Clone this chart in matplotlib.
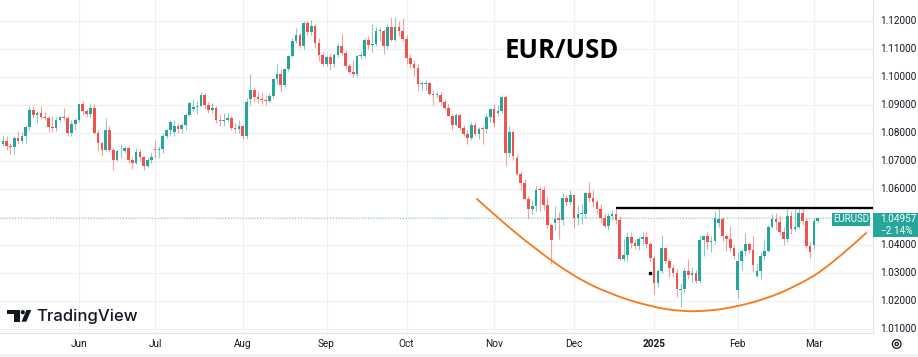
import numpy as np
import pandas as pd
import matplotlib
matplotlib.use("Agg")
import matplotlib.pyplot as plt
from matplotlib.patches import Rectangle, Circle, Ellipse, Polygon, PathPatch
from matplotlib.path import Path

plt.rcParams['font.family'] = ['Roboto', 'DejaVu Sans']

# ---------------- data (daily EUR/USD candles, weekdays, Dec 25 & Jan 1 skipped) ----------------
dates = pd.bdate_range("2024-05-03", "2025-03-04")
dates = dates[~dates.isin(pd.to_datetime(["2024-12-25", "2025-01-01"]))]

opens = [
    # May
    1.0727, 1.0761, 1.0770, 1.0753, 1.0749, 1.0783, 1.0771, 1.0790, 1.0820, 1.0883,
    1.0866, 1.0871, 1.0857, 1.0855, 1.0820, 1.0818, 1.0847, 1.0858, 1.0855, 1.0801, 1.0832,
    # Jun
    1.0848, 1.0904, 1.0877, 1.0868, 1.0890, 1.0800, 1.0763, 1.0740, 1.0809, 1.0740,
    1.0702, 1.0734, 1.0737, 1.0747, 1.0703, 1.0692, 1.0733, 1.0714, 1.0683, 1.0702,
    # Jul
    1.0744, 1.0740, 1.0742, 1.0791, 1.0810, 1.0805, 1.0825, 1.0813, 1.0830, 1.0865,
    1.0886, 1.0894, 1.0898, 1.0937, 1.0899, 1.0882, 1.0891, 1.0845, 1.0843, 1.0848,
    1.0855, 1.0818, 1.0816,
    # Aug
    1.0826, 1.0790, 1.0920, 1.0952, 1.0930, 1.0922, 1.0919, 1.0916, 1.0932, 1.0993,
    1.1012, 1.0973, 1.1027, 1.1075, 1.1130, 1.1151, 1.1111, 1.1192, 1.1161, 1.1183,
    1.1120, 1.1077,
    # Sep
    1.1047, 1.1073, 1.1045, 1.1078, 1.1111, 1.1086, 1.1039, 1.1017, 1.1010, 1.1075,
    1.1076, 1.1131, 1.1115, 1.1118, 1.1163, 1.1164, 1.1110, 1.1180, 1.1133, 1.1177, 1.1164,
    # Oct
    1.1135, 1.1067, 1.1047, 1.1032, 1.0974, 1.0975, 1.0978, 1.0940, 1.0936, 1.0937,
    1.0909, 1.0891, 1.0861, 1.0830, 1.0866, 1.0818, 1.0797, 1.0781, 1.0827, 1.0797,
    1.0815, 1.0814, 1.0856,
    # Nov
    1.0884, 1.0870, 1.0879, 1.0930, 1.0730, 1.0803, 1.0710, 1.0655, 1.0621, 1.0565,
    1.0530, 1.0541, 1.0599, 1.0596, 1.0544, 1.0472, 1.0478, 1.0495, 1.0488, 1.0568, 1.0555,
    # Dec
    1.0577, 1.0497, 1.0510, 1.0512, 1.0587, 1.0567, 1.0554, 1.0528, 1.0498, 1.0468,
    1.0502, 1.0512, 1.0489, 1.0350, 1.0364, 1.0430, 1.0406, 1.0398, 1.0421, 1.0429, 1.0405,
    # Jan
    1.0354, 1.0265, 1.0308, 1.0388, 1.0344, 1.0317, 1.0300, 1.0241, 1.0244, 1.0307,
    1.0292, 1.0300, 1.0272, 1.0417, 1.0431, 1.0409, 1.0413, 1.0480, 1.0494, 1.0431,
    1.0422, 1.0390,
    # Feb
    1.0240, 1.0344, 1.0378, 1.0403, 1.0381, 1.0290, 1.0307, 1.0361, 1.0380, 1.0466,
    1.0493, 1.0483, 1.0446, 1.0421, 1.0505, 1.0458, 1.0465, 1.0514, 1.0485, 1.0398,
    # Mar
    1.0400, 1.0485,
]
highs = [
    1.0812, 1.0790, 1.0790, 1.0765, 1.0790, 1.0806, 1.0805, 1.0830, 1.0895, 1.0895,
    1.0880, 1.0895, 1.0876, 1.0862, 1.0860, 1.0857, 1.0862, 1.0889, 1.0862, 1.0846, 1.0852,
    1.0905, 1.0916, 1.0885, 1.0902, 1.0902, 1.0809, 1.0768, 1.0852, 1.0826, 1.0745,
    1.0740, 1.0762, 1.0755, 1.0752, 1.0715, 1.0748, 1.0744, 1.0717, 1.0715, 1.0727,
    1.0776, 1.0755, 1.0800, 1.0816, 1.0845, 1.0845, 1.0835, 1.0835, 1.0870, 1.0910,
    1.0922, 1.0915, 1.0948, 1.0943, 1.0910, 1.0907, 1.0895, 1.0869, 1.0870, 1.0870,
    1.0860, 1.0837, 1.0846,
    1.0830, 1.0925, 1.1009, 1.0960, 1.0950, 1.0945, 1.0935, 1.0942, 1.0998, 1.1047,
    1.1028, 1.1030, 1.1080, 1.1138, 1.1174, 1.1156, 1.1201, 1.1200, 1.1202, 1.1188,
    1.1138, 1.1090,
    1.1080, 1.1085, 1.1085, 1.1120, 1.1155, 1.1095, 1.1050, 1.1060, 1.1080, 1.1090,
    1.1140, 1.1145, 1.1189, 1.1180, 1.1180, 1.1170, 1.1190, 1.1215, 1.1214, 1.1200, 1.1210,
    1.1150, 1.1083, 1.1060, 1.1045, 1.0986, 1.0990, 1.0983, 1.0955, 1.0950, 1.0945,
    1.0920, 1.0905, 1.0870, 1.0870, 1.0870, 1.0830, 1.0810, 1.0840, 1.0838, 1.0822,
    1.0825, 1.0870, 1.0890,
    1.0905, 1.0899, 1.0937, 1.0937, 1.0826, 1.0810, 1.0720, 1.0665, 1.0635, 1.0575,
    1.0560, 1.0610, 1.0610, 1.0610, 1.0570, 1.0480, 1.0540, 1.0517, 1.0587, 1.0580, 1.0597,
    1.0580, 1.0540, 1.0545, 1.0590, 1.0625, 1.0597, 1.0560, 1.0545, 1.0515, 1.0515,
    1.0525, 1.0533, 1.0505, 1.0420, 1.0445, 1.0446, 1.0420, 1.0430, 1.0445, 1.0445, 1.0410,
    1.0362, 1.0315, 1.0436, 1.0390, 1.0355, 1.0330, 1.0315, 1.0265, 1.0320, 1.0350,
    1.0320, 1.0310, 1.0435, 1.0433, 1.0448, 1.0432, 1.0520, 1.0533, 1.0500, 1.0440,
    1.0468, 1.0400,
    1.0375, 1.0385, 1.0442, 1.0410, 1.0432, 1.0335, 1.0375, 1.0420, 1.0470, 1.0512,
    1.0513, 1.0505, 1.0465, 1.0528, 1.0520, 1.0528, 1.0528, 1.0535, 1.0497, 1.0410,
    1.0495, 1.0500,
]
lows = [
    1.0723, 1.0753, 1.0740, 1.0724, 1.0724, 1.0760, 1.0765, 1.0765, 1.0810, 1.0855,
    1.0835, 1.0851, 1.0845, 1.0805, 1.0805, 1.0806, 1.0838, 1.0846, 1.0789, 1.0788, 1.0811,
    1.0838, 1.0865, 1.0857, 1.0857, 1.0796, 1.0735, 1.0718, 1.0735, 1.0731, 1.0668,
    1.0700, 1.0710, 1.0728, 1.0694, 1.0671, 1.0690, 1.0700, 1.0667, 1.0677, 1.0692,
    1.0710, 1.0710, 1.0730, 1.0783, 1.0790, 1.0791, 1.0800, 1.0800, 1.0810, 1.0860,
    1.0880, 1.0869, 1.0895, 1.0885, 1.0872, 1.0873, 1.0837, 1.0825, 1.0825, 1.0840,
    1.0810, 1.0800, 1.0800,
    1.0777, 1.0780, 1.0900, 1.0910, 1.0908, 1.0905, 1.0900, 1.0910, 1.0925, 1.0975,
    1.0948, 1.0966, 1.1020, 1.1070, 1.1120, 1.1105, 1.1100, 1.1150, 1.1150, 1.1105,
    1.1057, 1.1040,
    1.1040, 1.1025, 1.1035, 1.1070, 1.1080, 1.1030, 1.1010, 1.1000, 1.1000, 1.1065,
    1.1070, 1.1100, 1.1088, 1.1110, 1.1130, 1.1083, 1.1100, 1.1130, 1.1130, 1.1145, 1.1130,
    1.1045, 1.1033, 1.1005, 1.0950, 1.0955, 1.0955, 1.0935, 1.0900, 1.0927, 1.0900,
    1.0883, 1.0860, 1.0811, 1.0825, 1.0810, 1.0790, 1.0761, 1.0774, 1.0790, 1.0780,
    1.0761, 1.0800, 1.0840,
    1.0823, 1.0860, 1.0870, 1.0682, 1.0715, 1.0705, 1.0650, 1.0595, 1.0560, 1.0497,
    1.0510, 1.0520, 1.0520, 1.0525, 1.0462, 1.0333, 1.0452, 1.0422, 1.0470, 1.0540, 1.0543,
    1.0460, 1.0473, 1.0475, 1.0495, 1.0555, 1.0535, 1.0510, 1.0480, 1.0460, 1.0455,
    1.0490, 1.0476, 1.0345, 1.0342, 1.0343, 1.0390, 1.0385, 1.0383, 1.0400, 1.0388, 1.0342,
    1.0226, 1.0250, 1.0300, 1.0335, 1.0285, 1.0285, 1.0215, 1.0178, 1.0230, 1.0280,
    1.0268, 1.0265, 1.0265, 1.0360, 1.0385, 1.0375, 1.0405, 1.0465, 1.0415, 1.0380,
    1.0380, 1.0350,
    1.0211, 1.0310, 1.0362, 1.0370, 1.0305, 1.0285, 1.0280, 1.0345, 1.0375, 1.0460,
    1.0455, 1.0435, 1.0400, 1.0410, 1.0440, 1.0450, 1.0460, 1.0470, 1.0390, 1.0355,
    1.0385, 1.0480,
]
closes = [
    1.0761, 1.0770, 1.0753, 1.0749, 1.0783, 1.0771, 1.0790, 1.0820, 1.0883, 1.0866,
    1.0871, 1.0857, 1.0855, 1.0820, 1.0818, 1.0847, 1.0856, 1.0855, 1.0801, 1.0832, 1.0848,
    1.0904, 1.0877, 1.0868, 1.0890, 1.0801, 1.0763, 1.0740, 1.0809, 1.0740, 1.0702,
    1.0734, 1.0737, 1.0747, 1.0703, 1.0692, 1.0733, 1.0714, 1.0683, 1.0702, 1.0713,
    1.0740, 1.0742, 1.0791, 1.0810, 1.0840, 1.0825, 1.0813, 1.0830, 1.0865, 1.0908,
    1.0894, 1.0898, 1.0937, 1.0899, 1.0882, 1.0891, 1.0845, 1.0843, 1.0848, 1.0855,
    1.0818, 1.0816, 1.0826,
    1.0790, 1.0910, 1.0952, 1.0930, 1.0922, 1.0919, 1.0916, 1.0932, 1.0993, 1.1012,
    1.0973, 1.1027, 1.1075, 1.1130, 1.1151, 1.1111, 1.1192, 1.1161, 1.1183, 1.1120,
    1.1077, 1.1047,
    1.1073, 1.1045, 1.1078, 1.1111, 1.1086, 1.1039, 1.1017, 1.1010, 1.1075, 1.1076,
    1.1131, 1.1115, 1.1118, 1.1163, 1.1164, 1.1110, 1.1180, 1.1133, 1.1177, 1.1164, 1.1135,
    1.1067, 1.1047, 1.1032, 1.0974, 1.0975, 1.0978, 1.0940, 1.0936, 1.0937, 1.0909,
    1.0891, 1.0861, 1.0830, 1.0866, 1.0818, 1.0797, 1.0781, 1.0827, 1.0797, 1.0815,
    1.0814, 1.0856, 1.0884,
    1.0834, 1.0879, 1.0930, 1.0730, 1.0803, 1.0719, 1.0655, 1.0621, 1.0565, 1.0530,
    1.0541, 1.0597, 1.0596, 1.0544, 1.0472, 1.0417, 1.0493, 1.0488, 1.0568, 1.0555, 1.0577,
    1.0497, 1.0510, 1.0512, 1.0587, 1.0567, 1.0554, 1.0528, 1.0498, 1.0468, 1.0502,
    1.0512, 1.0489, 1.0350, 1.0364, 1.0430, 1.0406, 1.0398, 1.0421, 1.0429, 1.0405, 1.0354,
    1.0265, 1.0308, 1.0388, 1.0344, 1.0317, 1.0300, 1.0244, 1.0244, 1.0307, 1.0292,
    1.0300, 1.0272, 1.0417, 1.0431, 1.0409, 1.0413, 1.0496, 1.0494, 1.0431, 1.0422,
    1.0390, 1.0362,
    1.0344, 1.0378, 1.0403, 1.0381, 1.0327, 1.0307, 1.0361, 1.0380, 1.0466, 1.0493,
    1.0483, 1.0446, 1.0421, 1.0505, 1.0458, 1.0465, 1.0514, 1.0485, 1.0398, 1.0376,
    1.0485, 1.04957,
]

month_labels = ["Jun", "Jul", "Aug", "Sep", "Oct", "Nov", "Dec", "2025", "Feb", "Mar"]
price_ticks = [1.12, 1.11, 1.10, 1.09, 1.08, 1.07, 1.06, 1.05, 1.04, 1.03, 1.02, 1.01]
price_tick_labels = ["1.12000", "1.11000", "1.10000", "1.09000", "1.08000", "1.07000",
                     "1.06000", "", "1.04000", "1.03000", "1.02000", "1.01000"]
last_price = 1.04957
last_change = "\u22122.14%"
symbol = "EURUSD"
title = "EUR/USD"

# resistance line (start bar index, price) and rounded-bottom curve control points (bar index, price)
resistance_start = 162
resistance_price = 1.0533
curve_x = [125.5, 131.6, 140.2, 150.7, 160.4, 170.9, 179.1, 185.9, 191.9, 200.6, 209.5, 218.2, 227.7]
curve_y = [1.05643, 1.04893, 1.03929, 1.02893, 1.02250, 1.01804, 1.01625, 1.01643,
           1.01750, 1.02036, 1.02536, 1.03250, 1.04429]
marker_pt = (170.9, 1.0301)

# ---------------- figure ----------------
W, H = 918, 357
fig = plt.figure(figsize=(W / 100, H / 100), dpi=100)
fig.patch.set_facecolor("white")

UP, DOWN = "#26a69a", "#ef5350"
TXT = "#131722"
GRID = "#eef0f4"

PLOT_R, PLOT_B = 873, 333
ylo, yhi = 1.12 - 312 / 2800, 1.12 + 21 / 2800
xlo, xhi = 0.255, 229.5

ax = fig.add_axes([0, 1 - PLOT_B / H, PLOT_R / W, PLOT_B / H])
ax.set_xlim(xlo, xhi)
ax.set_ylim(ylo, yhi)
ax.set_xticks([]); ax.set_yticks([])
for s in ["top", "left"]:
    ax.spines[s].set_visible(False)
for s in ["right", "bottom"]:
    ax.spines[s].set_color("#e0e3eb"); ax.spines[s].set_linewidth(0.8)

o = np.array(opens); h = np.array(highs); l = np.array(lows); c = np.array(closes)
idx = np.arange(len(c))

# month boundaries
month_key = dates.to_period("M")
first_idx = [i for i in range(1, len(dates)) if month_key[i] != month_key[i - 1]]

for p in price_ticks:
    ax.axhline(p, color=GRID, lw=0.8, zorder=0)
for fi in first_idx:
    ax.axvline(fi, color=GRID, lw=0.8, zorder=0)

ax.axhline(last_price, color=UP, lw=0.7, ls=(0, (1, 2)), alpha=0.7, zorder=1)

up = c >= o
cols = np.where(up, UP, DOWN)
ax.vlines(idx, l, h, colors=cols, lw=0.8, alpha=0.55, zorder=2)
bottom = np.minimum(o, c)
height = np.maximum(np.abs(c - o), 0.00035)
ax.bar(idx, height, 0.7, bottom=bottom, color=cols, linewidth=0, zorder=3)

ax.plot([resistance_start, xhi], [resistance_price, resistance_price], color="black", lw=1.7,
        solid_capstyle="butt", zorder=4)

# smooth brush stroke through the control points (quadratic B-spline path)
pts = list(zip(curve_x, curve_y))
verts = [pts[0]]
codes = [Path.MOVETO]
for i in range(1, len(pts) - 1):
    ctrl = pts[i]
    if i < len(pts) - 2:
        end = ((pts[i][0] + pts[i + 1][0]) / 2, (pts[i][1] + pts[i + 1][1]) / 2)
    else:
        end = pts[i + 1]
    verts += [ctrl, end]
    codes += [Path.CURVE3, Path.CURVE3]
ax.add_patch(PathPatch(Path(verts, codes), facecolor="none", edgecolor="#f57c1f",
                       lw=1.35, zorder=4, capstyle="round"))
ax.plot([marker_pt[0]], [marker_pt[1]], marker="s", ms=1.6, color="black", zorder=5)

# ---------------- price scale ----------------
axp = fig.add_axes([PLOT_R / W, 1 - PLOT_B / H, (W - PLOT_R) / W, PLOT_B / H])
axp.set_xlim(0, W - PLOT_R); axp.set_ylim(ylo, yhi); axp.axis("off")
for p, lab in zip(price_ticks, price_tick_labels):
    if lab:
        axp.text(7, p, lab, fontsize=7.2, color=TXT, va="center", ha="left", clip_on=True)

def px2fig(x, y):
    return x / W, 1 - y / H

# last price badge
x0, y0 = px2fig(873, 237)
fig.patches.append(Rectangle((x0, y0), 45 / W, 24 / H, transform=fig.transFigure,
                             facecolor=UP, edgecolor="none", zorder=5))
fig.text(*px2fig(880, 219.5), f"{last_price:.5f}", fontsize=7.2, color="white",
         ha="left", va="center", zorder=6)
fig.text(*px2fig(880, 231), last_change, fontsize=7.2, color="white",
         ha="left", va="center", zorder=6)
x0, y0 = px2fig(832, 225.5)
fig.patches.append(Rectangle((x0, y0), 38 / W, 12.5 / H, transform=fig.transFigure,
                             facecolor=UP, edgecolor="none", zorder=5))
fig.text(*px2fig(851, 219.5), symbol, fontsize=7, color="white",
         ha="center", va="center", zorder=6)

# ---------------- time scale ----------------
axt = fig.add_axes([0, 0, PLOT_R / W, (H - PLOT_B) / H])
axt.set_xlim(xlo, xhi); axt.set_ylim(0, H - PLOT_B); axt.axis("off")
for fi, lab in zip(first_idx, month_labels):
    axt.text(fi, 13, lab, fontsize=7.2, color=TXT, ha="center", va="center",
             fontweight="bold" if lab.isdigit() else "normal")
fig.add_artist(plt.Line2D([0, 1], [2 / H, 2 / H], transform=fig.transFigure,
                          color="#e0e3eb", lw=0.8))

# settings icon
cx, cy = px2fig(896.7, 344)
fig.patches.append(Ellipse((cx, cy), 8.6 / W, 8.6 / H, transform=fig.transFigure, fill=False,
                           edgecolor=TXT, lw=0.9))
fig.patches.append(Ellipse((cx, cy), 3.2 / W, 3.2 / H, transform=fig.transFigure, fill=False,
                           edgecolor=TXT, lw=0.9))

# ---------------- title ----------------
fig.text(*px2fig(562, 51), title, fontsize=18.5, fontweight="bold", color="black",
         ha="center", va="center", family=["Open Sans", "DejaVu Sans"])

# ---------------- TradingView logo ----------------
def rect_px(x1, y1, x2, y2):
    a, b = px2fig(x1, y2)
    fig.patches.append(Rectangle((a, b), (x2 - x1) / W, (y2 - y1) / H,
                                 transform=fig.transFigure, facecolor=TXT, edgecolor="none"))

rect_px(7.3, 310, 19.5, 314.3)
rect_px(14, 310, 19.5, 321.7)
fig.patches.append(Ellipse(px2fig(22.8, 312.2), 4.2 / W, 4.2 / H, transform=fig.transFigure,
                           facecolor=TXT, edgecolor="none"))
fig.patches.append(Polygon([px2fig(21.5, 321.7), px2fig(26.3, 321.7), px2fig(31.3, 310),
                            px2fig(26.5, 310)], closed=True, transform=fig.transFigure,
                           facecolor=TXT, edgecolor="none"))
fig.text(*px2fig(36.5, 316.5), "TradingView", fontsize=12, color=TXT, ha="left", va="center",
         fontweight="medium", family=["Inter", "DejaVu Sans"])

fig.savefig("out.png", dpi=100, facecolor="white")
